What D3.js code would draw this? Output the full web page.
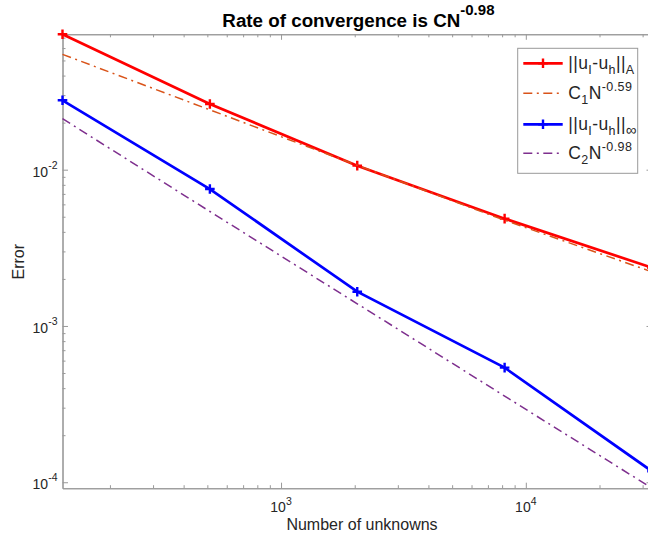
<!DOCTYPE html>
<html>
<head>
<meta charset="utf-8">
<script src="https://cdn.jsdelivr.net/npm/d3@7"></script>
<style>
body { margin: 0; background: #fff; overflow: hidden; }
svg { display: block; font-family: "Liberation Sans", Arial, Helvetica, sans-serif; }
</style>
</head>
<body>
<svg id="chart" width="648" height="533"></svg>
<script>
'use strict'

// values
const unknowns = [128, 512, 2048, 8192, 32768]
const errEnergy = [0.0735, 0.0263, 0.01061, 0.00486, 0.00236]
const fitEnergy = [0.0547, 0.02415, 0.01066, 0.00475, 0.00222]
const errMax = [0.0278, 0.00752, 0.001657, 0.000541, 0.0001175]
const fitMax = [0.0212, 0.0054, 0.001387, 0.000356, 0.0000916]

const xMajor = [1e3, 1e4]
const xMajorExp = ['3', '4']
const yMajor = [1e-4, 1e-3, 1e-2]
const yMajorExp = ['-4', '-3', '-2']

const titleText = 'Rate of convergence is CN'
const titleExp = '-0.98'
const xLabel = 'Number of unknowns'
const yLabel = 'Error'

const axisGrey = '#999'
const textCol = '#262626'

const svg = d3.select('#chart')

const plotL = 62.5, plotR = 652, plotT = 34.3, plotB = 488.2

let allVals = errEnergy.concat(fitEnergy, errMax, fitMax)
const x = d3.scaleLog().domain(d3.extent(unknowns)).range([plotL, plotR])
const y = d3.scaleLog().domain(d3.extent(allVals)).range([plotB, plotT])

// minor ticks from the scale's own tick generator
const xMinor = x.ticks().filter(v => xMajor.indexOf(v) < 0)
const yMinor = y.ticks().filter(v => yMajor.every(m => Math.abs(m - v) / m > 1e-6))

function styleAxis(g) {
	g.selectAll('path.domain').attr('stroke', axisGrey).attr('stroke-width', 1.1)
	g.selectAll('.tick line').attr('stroke', axisGrey).attr('stroke-width', 1)
	g.selectAll('.tick text').remove()
}

function addAxis(maker, scale, vals, size, tr) {
	let g = svg.append('g').attr('transform', tr)
		.call(maker(scale).tickValues(vals).tickSize(size).tickSizeOuter(0).tickFormat(''))
	styleAxis(g)
}

addAxis(d3.axisBottom, x, xMajor, -5.5, 'translate(0,' + plotB + ')')
addAxis(d3.axisBottom, x, xMinor, -3, 'translate(0,' + plotB + ')')
addAxis(d3.axisTop, x, xMajor, -5.5, 'translate(0,' + plotT + ')')
addAxis(d3.axisTop, x, xMinor, -3, 'translate(0,' + plotT + ')')
addAxis(d3.axisLeft, y, yMajor, -5.5, 'translate(' + plotL + ',0)')
addAxis(d3.axisLeft, y, yMinor, -3, 'translate(' + plotL + ',0)')
addAxis(d3.axisRight, y, yMajor, -5.5, 'translate(' + plotR + ',0)')
addAxis(d3.axisRight, y, yMinor, -3, 'translate(' + plotR + ',0)')

// tick labels with superscript exponents
xMajor.forEach(function(v, i) {
	let t = svg.append('text')
		.attr('x', x(v)).attr('y', 511.7)
		.attr('text-anchor', 'middle')
		.attr('font-size', 14).attr('fill', textCol)
	t.append('tspan').text('10')
	t.append('tspan').attr('dy', -6.5).attr('font-size', 10.5).text(xMajorExp[i])
})
yMajor.forEach(function(v, i) {
	let t = svg.append('text')
		.attr('x', 57.5).attr('y', y(v) + 7)
		.attr('text-anchor', 'end')
		.attr('font-size', 14).attr('fill', textCol)
	t.append('tspan').text('10')
	t.append('tspan').attr('dy', -8).attr('font-size', 10.5).text(yMajorExp[i])
})

// axis labels and title
svg.append('text')
	.attr('x', 362).attr('y', 530)
	.attr('text-anchor', 'middle')
	.attr('font-size', 16).attr('fill', textCol)
	.text(xLabel)
svg.append('text')
	.attr('transform', 'translate(24.3,261.7) rotate(-90)')
	.attr('text-anchor', 'middle')
	.attr('font-size', 16).attr('fill', textCol)
	.text(yLabel)
let title = svg.append('text')
	.attr('x', 358.4).attr('y', 26.7)
	.attr('text-anchor', 'middle')
	.attr('font-size', 18.8).attr('font-weight', 'bold').attr('fill', '#000')
title.append('tspan').text(titleText)
title.append('tspan').attr('dy', -11.5).attr('font-size', 15).text(titleExp)

// series
const dashDot = '9,4.5,2,4.5'
const series = [
	{vals: errEnergy, color: '#ff0000', width: 2.7, dash: null, marker: true},
	{vals: fitEnergy, color: '#d95319', width: 1.5, dash: dashDot, marker: false},
	{vals: errMax, color: '#0000ff', width: 2.7, dash: null, marker: true},
	{vals: fitMax, color: '#7e2f8e', width: 1.5, dash: dashDot, marker: false}
]

const line = d3.line().x(d => x(d[0])).y(d => y(d[1]))

function plusMarker(g, cx, cy, color) {
	g.append('path')
		.attr('d', 'M' + (cx - 4.8) + ',' + cy + 'H' + (cx + 4.8) + 'M' + cx + ',' + (cy - 4.8) + 'V' + (cy + 4.8))
		.attr('stroke', color).attr('stroke-width', 2.4).attr('fill', 'none')
}

series.forEach(function(s) {
	let pts = unknowns.map((n, i) => [n, s.vals[i]])
	svg.append('path')
		.attr('d', line(pts))
		.attr('fill', 'none')
		.attr('stroke', s.color)
		.attr('stroke-width', s.width)
		.attr('stroke-dasharray', s.dash)
	if (s.marker) {
		let g = svg.append('g')
		pts.forEach(p => plusMarker(g, x(p[0]), y(p[1]), s.color))
	}
})

// legend
const legendRows = [63.3, 93.3, 124.3, 153.3]
svg.append('rect')
	.attr('x', 517.7).attr('y', 48.3).attr('width', 120).attr('height', 125)
	.attr('fill', '#fff').attr('stroke', axisGrey).attr('stroke-width', 1)

const legendText = [
	[['||u', 0], ['I', 1], ['-u', 0], ['h', 1], ['||', 0], ['A', 1]],
	[['C', 0], ['1', 1], ['N', 0], ['-0.59', -1]],
	[['||u', 0], ['I', 1], ['-u', 0], ['h', 1], ['||', 0], ['\u221e', 1]],
	[['C', 0], ['2', 1], ['N', 0], ['-0.98', -1]]
]

series.forEach(function(s, i) {
	let ly = legendRows[i]
	svg.append('line')
		.attr('x1', 523.3).attr('x2', 562.7).attr('y1', ly).attr('y2', ly)
		.attr('stroke', s.color).attr('stroke-width', s.width)
		.attr('stroke-dasharray', s.dash)
	if (s.marker) plusMarker(svg, 543, ly, s.color)
	let t = svg.append('text')
		.attr('x', 568.3).attr('y', ly + 6)
		.attr('font-size', 17.5).attr('fill', textCol)
		.attr('letter-spacing', 0.4)
	let shift = 0
	legendText[i].forEach(function(part) {
		let target = part[1] === 1 ? 4.5 : (part[1] === -1 ? -8.5 : 0)
		let sp = t.append('tspan').attr('dy', target - shift).text(part[0])
		if (part[1] !== 0) sp.attr('font-size', part[0] === '\u221e' ? 15 : 12.5)
		shift = target
	})
})
</script>
</body>
</html>
